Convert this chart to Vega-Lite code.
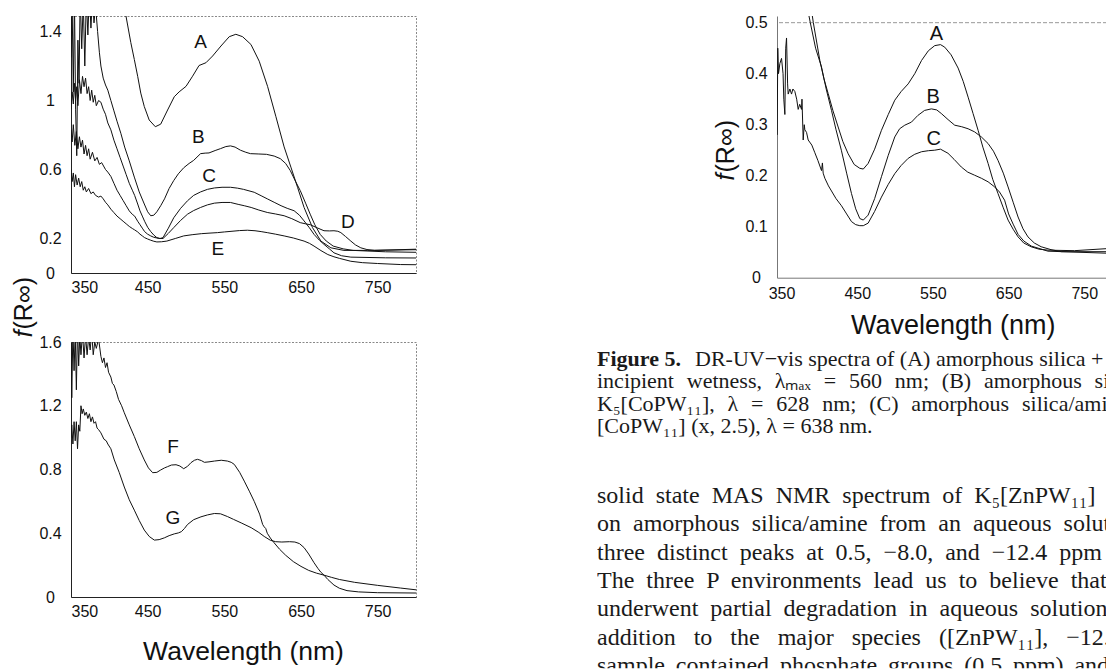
{
 "$schema": "https://vega.github.io/schema/vega-lite/v6.json",
 "padding": {"left": 10, "top": 14, "right": 0, "bottom": 0},
 "background": "white",
 "config": {
  "font": "Liberation Sans",
  "view": {"stroke": "#888", "strokeDash": [2, 1.5]},
  "axis": {"grid": false, "ticks": false, "tickSize": 0, "domainColor": "#222", "labelColor": "#111", "labelFont": "Liberation Sans", "labelFontSize": 16, "titleFont": "Liberation Sans", "titleFontWeight": "normal", "titleColor": "#111"}
 },
 "datasets": {
  "tl": [
   {"s":"A","wl":412,"v":1.72},{"s":"A","wl":421.7,"v":1.49},{"s":"A","wl":428,"v":1.336},{"s":"A","wl":432.6,"v":1.238},{"s":"A","wl":437,"v":1.14},{"s":"A","wl":441,"v":1.043},{"s":"A","wl":445.6,"v":0.965},{"s":"A","wl":452,"v":0.887},{"s":"A","wl":460,"v":0.848},{"s":"A","wl":467,"v":0.863},{"s":"A","wl":476,"v":0.945},{"s":"A","wl":484.7,"v":1.022},{"s":"A","wl":491,"v":1.05},{"s":"A","wl":500,"v":1.082},{"s":"A","wl":508.6,"v":1.141},{"s":"A","wl":517,"v":1.203},{"s":"A","wl":526,"v":1.219},{"s":"A","wl":534.7,"v":1.258},{"s":"A","wl":545.6,"v":1.316},{"s":"A","wl":556.4,"v":1.37},{"s":"A","wl":565,"v":1.384},{"s":"A","wl":573.8,"v":1.37},{"s":"A","wl":584.7,"v":1.325},{"s":"A","wl":595.5,"v":1.228},{"s":"A","wl":606.4,"v":1.082},{"s":"A","wl":617.3,"v":0.906},{"s":"A","wl":628,"v":0.731},{"s":"A","wl":636.8,"v":0.614},{"s":"A","wl":645.5,"v":0.497},{"s":"A","wl":654,"v":0.38},{"s":"A","wl":665,"v":0.263},{"s":"A","wl":676,"v":0.185},{"s":"A","wl":689,"v":0.146},{"s":"A","wl":706,"v":0.131},{"s":"A","wl":737,"v":0.131},{"s":"A","wl":800,"v":0.135},
   {"s":"B","wl":350,"v":1.25},{"s":"B","wl":351.5,"v":1.55},{"s":"B","wl":353,"v":1.05},{"s":"B","wl":354.5,"v":1.6},{"s":"B","wl":356,"v":0.95},{"s":"B","wl":357.5,"v":0.68},{"s":"B","wl":359,"v":1.35},{"s":"B","wl":360.5,"v":1.1},{"s":"B","wl":362,"v":1.62},{"s":"B","wl":364,"v":1.3},{"s":"B","wl":366,"v":1.58},{"s":"B","wl":368,"v":1.2},{"s":"B","wl":370,"v":1.6},{"s":"B","wl":372,"v":1.38},{"s":"B","wl":374,"v":1.62},{"s":"B","wl":376,"v":1.42},{"s":"B","wl":378,"v":1.6},{"s":"B","wl":380,"v":1.45},{"s":"B","wl":382,"v":1.55},{"s":"B","wl":384.7,"v":1.4},{"s":"B","wl":387,"v":1.28},{"s":"B","wl":389,"v":1.2},{"s":"B","wl":392,"v":1.13},{"s":"B","wl":395,"v":1.09},{"s":"B","wl":398,"v":1.06},{"s":"B","wl":402,"v":1.0},{"s":"B","wl":406,"v":0.94},{"s":"B","wl":410,"v":0.88},{"s":"B","wl":415,"v":0.81},{"s":"B","wl":420,"v":0.73},{"s":"B","wl":426,"v":0.65},{"s":"B","wl":432.6,"v":0.556},{"s":"B","wl":439,"v":0.47},{"s":"B","wl":445.6,"v":0.4},{"s":"B","wl":450,"v":0.355},{"s":"B","wl":454,"v":0.332},{"s":"B","wl":458,"v":0.335},{"s":"B","wl":462,"v":0.355},{"s":"B","wl":467,"v":0.39},{"s":"B","wl":472,"v":0.43},{"s":"B","wl":478,"v":0.49},{"s":"B","wl":484,"v":0.536},{"s":"B","wl":490,"v":0.575},{"s":"B","wl":497,"v":0.61},{"s":"B","wl":504,"v":0.635},{"s":"B","wl":510,"v":0.653},{"s":"B","wl":519,"v":0.692},{"s":"B","wl":525,"v":0.695},{"s":"B","wl":530,"v":0.696},{"s":"B","wl":538,"v":0.71},{"s":"B","wl":545,"v":0.721},{"s":"B","wl":552,"v":0.733},{"s":"B","wl":558,"v":0.737},{"s":"B","wl":564,"v":0.73},{"s":"B","wl":571,"v":0.712},{"s":"B","wl":578,"v":0.7},{"s":"B","wl":584,"v":0.692},{"s":"B","wl":595,"v":0.69},{"s":"B","wl":605,"v":0.688},{"s":"B","wl":615,"v":0.678},{"s":"B","wl":623,"v":0.663},{"s":"B","wl":630,"v":0.635},{"s":"B","wl":636,"v":0.594},{"s":"B","wl":643,"v":0.53},{"s":"B","wl":649,"v":0.478},{"s":"B","wl":656,"v":0.405},{"s":"B","wl":662,"v":0.341},{"s":"B","wl":668,"v":0.28},{"s":"B","wl":675,"v":0.224},{"s":"B","wl":683,"v":0.185},{"s":"B","wl":692,"v":0.156},{"s":"B","wl":705,"v":0.14},{"s":"B","wl":718,"v":0.131},{"s":"B","wl":760,"v":0.123},{"s":"B","wl":800,"v":0.12},
   {"s":"C","wl":350,"v":0.95},{"s":"C","wl":351.5,"v":1.05},{"s":"C","wl":353,"v":0.98},{"s":"C","wl":354.5,"v":1.1},{"s":"C","wl":356,"v":1.0},{"s":"C","wl":357.5,"v":1.08},{"s":"C","wl":359,"v":0.97},{"s":"C","wl":361,"v":1.12},{"s":"C","wl":363,"v":1.04},{"s":"C","wl":365,"v":1.14},{"s":"C","wl":367,"v":1.08},{"s":"C","wl":369,"v":1.13},{"s":"C","wl":371,"v":1.04},{"s":"C","wl":373,"v":1.08},{"s":"C","wl":375,"v":1.0},{"s":"C","wl":377,"v":1.06},{"s":"C","wl":379,"v":0.99},{"s":"C","wl":381,"v":1.03},{"s":"C","wl":383,"v":0.97},{"s":"C","wl":386,"v":1.0},{"s":"C","wl":389,"v":0.99},{"s":"C","wl":392,"v":0.95},{"s":"C","wl":395,"v":0.92},{"s":"C","wl":398,"v":0.87},{"s":"C","wl":402,"v":0.83},{"s":"C","wl":406,"v":0.77},{"s":"C","wl":410,"v":0.72},{"s":"C","wl":414,"v":0.67},{"s":"C","wl":418,"v":0.62},{"s":"C","wl":422,"v":0.57},{"s":"C","wl":426,"v":0.52},{"s":"C","wl":430,"v":0.48},{"s":"C","wl":433,"v":0.45},{"s":"C","wl":437,"v":0.4},{"s":"C","wl":440,"v":0.36},{"s":"C","wl":443,"v":0.33},{"s":"C","wl":446,"v":0.3},{"s":"C","wl":450,"v":0.265},{"s":"C","wl":454,"v":0.24},{"s":"C","wl":458,"v":0.22},{"s":"C","wl":462,"v":0.205},{"s":"C","wl":466,"v":0.2},{"s":"C","wl":470,"v":0.205},{"s":"C","wl":477,"v":0.26},{"s":"C","wl":484,"v":0.32},{"s":"C","wl":493,"v":0.375},{"s":"C","wl":502,"v":0.419},{"s":"C","wl":510,"v":0.45},{"s":"C","wl":519,"v":0.47},{"s":"C","wl":528,"v":0.485},{"s":"C","wl":537,"v":0.493},{"s":"C","wl":547,"v":0.497},{"s":"C","wl":558,"v":0.497},{"s":"C","wl":567,"v":0.492},{"s":"C","wl":575,"v":0.485},{"s":"C","wl":589,"v":0.468},{"s":"C","wl":598,"v":0.448},{"s":"C","wl":606,"v":0.43},{"s":"C","wl":615,"v":0.41},{"s":"C","wl":624,"v":0.39},{"s":"C","wl":632,"v":0.375},{"s":"C","wl":641,"v":0.361},{"s":"C","wl":648,"v":0.335},{"s":"C","wl":654,"v":0.302},{"s":"C","wl":661,"v":0.262},{"s":"C","wl":667,"v":0.224},{"s":"C","wl":674,"v":0.19},{"s":"C","wl":680,"v":0.166},{"s":"C","wl":687,"v":0.14},{"s":"C","wl":693,"v":0.117},{"s":"C","wl":703,"v":0.1},{"s":"C","wl":715,"v":0.092},{"s":"C","wl":760,"v":0.088},{"s":"C","wl":800,"v":0.087},
   {"s":"D","wl":350,"v":0.83},{"s":"D","wl":351.5,"v":0.76},{"s":"D","wl":353,"v":0.86},{"s":"D","wl":355,"v":0.74},{"s":"D","wl":357,"v":0.82},{"s":"D","wl":359,"v":0.72},{"s":"D","wl":361,"v":0.79},{"s":"D","wl":363,"v":0.73},{"s":"D","wl":365,"v":0.77},{"s":"D","wl":367,"v":0.69},{"s":"D","wl":369,"v":0.74},{"s":"D","wl":371,"v":0.68},{"s":"D","wl":373,"v":0.72},{"s":"D","wl":375,"v":0.66},{"s":"D","wl":378,"v":0.7},{"s":"D","wl":381,"v":0.65},{"s":"D","wl":384,"v":0.67},{"s":"D","wl":387,"v":0.63},{"s":"D","wl":390,"v":0.64},{"s":"D","wl":395,"v":0.6},{"s":"D","wl":398,"v":0.585},{"s":"D","wl":402,"v":0.56},{"s":"D","wl":406,"v":0.52},{"s":"D","wl":410,"v":0.48},{"s":"D","wl":414,"v":0.45},{"s":"D","wl":418,"v":0.42},{"s":"D","wl":422,"v":0.39},{"s":"D","wl":426,"v":0.36},{"s":"D","wl":430,"v":0.34},{"s":"D","wl":433,"v":0.33},{"s":"D","wl":437,"v":0.3},{"s":"D","wl":440,"v":0.28},{"s":"D","wl":443,"v":0.26},{"s":"D","wl":446,"v":0.24},{"s":"D","wl":450,"v":0.225},{"s":"D","wl":454,"v":0.215},{"s":"D","wl":458,"v":0.207},{"s":"D","wl":462,"v":0.203},{"s":"D","wl":466,"v":0.2},{"s":"D","wl":470,"v":0.2},{"s":"D","wl":477,"v":0.23},{"s":"D","wl":484,"v":0.263},{"s":"D","wl":493,"v":0.305},{"s":"D","wl":502,"v":0.341},{"s":"D","wl":510,"v":0.362},{"s":"D","wl":519,"v":0.38},{"s":"D","wl":528,"v":0.395},{"s":"D","wl":537,"v":0.405},{"s":"D","wl":547,"v":0.409},{"s":"D","wl":558,"v":0.409},{"s":"D","wl":568,"v":0.398},{"s":"D","wl":576,"v":0.39},{"s":"D","wl":585,"v":0.38},{"s":"D","wl":595,"v":0.365},{"s":"D","wl":606,"v":0.351},{"s":"D","wl":617,"v":0.342},{"s":"D","wl":628,"v":0.332},{"s":"D","wl":638,"v":0.315},{"s":"D","wl":649,"v":0.292},{"s":"D","wl":656,"v":0.285},{"s":"D","wl":662,"v":0.28},{"s":"D","wl":671,"v":0.262},{"s":"D","wl":680,"v":0.245},{"s":"D","wl":687,"v":0.244},{"s":"D","wl":693,"v":0.245},{"s":"D","wl":698,"v":0.242},{"s":"D","wl":702,"v":0.234},{"s":"D","wl":708,"v":0.212},{"s":"D","wl":715,"v":0.185},{"s":"D","wl":721,"v":0.163},{"s":"D","wl":728,"v":0.146},{"s":"D","wl":736,"v":0.136},{"s":"D","wl":746,"v":0.131},{"s":"D","wl":770,"v":0.134},{"s":"D","wl":800,"v":0.138},
   {"s":"E","wl":350,"v":0.6},{"s":"E","wl":351.5,"v":0.53},{"s":"E","wl":353,"v":0.58},{"s":"E","wl":354.5,"v":0.5},{"s":"E","wl":356,"v":0.57},{"s":"E","wl":358,"v":0.51},{"s":"E","wl":360,"v":0.55},{"s":"E","wl":362,"v":0.5},{"s":"E","wl":364,"v":0.53},{"s":"E","wl":366,"v":0.48},{"s":"E","wl":368,"v":0.5},{"s":"E","wl":370,"v":0.47},{"s":"E","wl":373,"v":0.49},{"s":"E","wl":376,"v":0.46},{"s":"E","wl":379,"v":0.47},{"s":"E","wl":382,"v":0.45},{"s":"E","wl":386,"v":0.44},{"s":"E","wl":389,"v":0.446},{"s":"E","wl":392,"v":0.43},{"s":"E","wl":395,"v":0.41},{"s":"E","wl":398,"v":0.395},{"s":"E","wl":402,"v":0.37},{"s":"E","wl":406,"v":0.35},{"s":"E","wl":410,"v":0.33},{"s":"E","wl":414,"v":0.315},{"s":"E","wl":418,"v":0.3},{"s":"E","wl":422,"v":0.285},{"s":"E","wl":426,"v":0.27},{"s":"E","wl":430,"v":0.258},{"s":"E","wl":433,"v":0.25},{"s":"E","wl":437,"v":0.238},{"s":"E","wl":440,"v":0.225},{"s":"E","wl":443,"v":0.215},{"s":"E","wl":446,"v":0.205},{"s":"E","wl":450,"v":0.197},{"s":"E","wl":454,"v":0.19},{"s":"E","wl":458,"v":0.184},{"s":"E","wl":462,"v":0.18},{"s":"E","wl":468,"v":0.181},{"s":"E","wl":475,"v":0.185},{"s":"E","wl":486,"v":0.2},{"s":"E","wl":497,"v":0.215},{"s":"E","wl":508,"v":0.222},{"s":"E","wl":520,"v":0.228},{"s":"E","wl":530,"v":0.231},{"s":"E","wl":541,"v":0.234},{"s":"E","wl":550,"v":0.238},{"s":"E","wl":560,"v":0.242},{"s":"E","wl":570,"v":0.246},{"s":"E","wl":580,"v":0.248},{"s":"E","wl":590,"v":0.245},{"s":"E","wl":598,"v":0.24},{"s":"E","wl":606,"v":0.234},{"s":"E","wl":617,"v":0.225},{"s":"E","wl":628,"v":0.215},{"s":"E","wl":640,"v":0.203},{"s":"E","wl":654,"v":0.185},{"s":"E","wl":661,"v":0.172},{"s":"E","wl":667,"v":0.156},{"s":"E","wl":676,"v":0.13},{"s":"E","wl":685,"v":0.107},{"s":"E","wl":693,"v":0.094},{"s":"E","wl":700,"v":0.085},{"s":"E","wl":715,"v":0.068},{"s":"E","wl":730,"v":0.06},{"s":"E","wl":750,"v":0.055},{"s":"E","wl":780,"v":0.049},{"s":"E","wl":800,"v":0.048}
  ],
  "bl": [
   {"s":"F","wl":350,"v":1.62},{"s":"F","wl":351,"v":1.25},{"s":"F","wl":352.5,"v":1.68},{"s":"F","wl":354,"v":1.42},{"s":"F","wl":355.5,"v":1.66},{"s":"F","wl":357,"v":1.3},{"s":"F","wl":358.5,"v":1.7},{"s":"F","wl":360,"v":1.45},{"s":"F","wl":361.5,"v":1.64},{"s":"F","wl":363,"v":1.52},{"s":"F","wl":365,"v":1.66},{"s":"F","wl":367,"v":1.5},{"s":"F","wl":369,"v":1.64},{"s":"F","wl":371,"v":1.52},{"s":"F","wl":373,"v":1.63},{"s":"F","wl":375,"v":1.55},{"s":"F","wl":377,"v":1.66},{"s":"F","wl":379,"v":1.52},{"s":"F","wl":381,"v":1.6},{"s":"F","wl":383,"v":1.56},{"s":"F","wl":386,"v":1.62},{"s":"F","wl":389,"v":1.51},{"s":"F","wl":391,"v":1.47},{"s":"F","wl":393,"v":1.5},{"s":"F","wl":395,"v":1.44},{"s":"F","wl":397,"v":1.47},{"s":"F","wl":399,"v":1.41},{"s":"F","wl":402,"v":1.38},{"s":"F","wl":404,"v":1.34},{"s":"F","wl":406,"v":1.33},{"s":"F","wl":409,"v":1.29},{"s":"F","wl":412,"v":1.24},{"s":"F","wl":416,"v":1.2},{"s":"F","wl":419.5,"v":1.156},{"s":"F","wl":426,"v":1.08},{"s":"F","wl":432.6,"v":1.007},{"s":"F","wl":439,"v":0.93},{"s":"F","wl":445.6,"v":0.86},{"s":"F","wl":451,"v":0.81},{"s":"F","wl":456.5,"v":0.78},{"s":"F","wl":462,"v":0.782},{"s":"F","wl":467,"v":0.797},{"s":"F","wl":472,"v":0.81},{"s":"F","wl":476,"v":0.818},{"s":"F","wl":481,"v":0.828},{"s":"F","wl":487,"v":0.83},{"s":"F","wl":492,"v":0.822},{"s":"F","wl":497,"v":0.805},{"s":"F","wl":502,"v":0.82},{"s":"F","wl":506.5,"v":0.843},{"s":"F","wl":511,"v":0.858},{"s":"F","wl":515,"v":0.864},{"s":"F","wl":520,"v":0.856},{"s":"F","wl":524,"v":0.845},{"s":"F","wl":530,"v":0.848},{"s":"F","wl":537,"v":0.853},{"s":"F","wl":546,"v":0.858},{"s":"F","wl":554,"v":0.853},{"s":"F","wl":559,"v":0.845},{"s":"F","wl":563,"v":0.832},{"s":"F","wl":570,"v":0.782},{"s":"F","wl":576,"v":0.727},{"s":"F","wl":583,"v":0.66},{"s":"F","wl":589,"v":0.6},{"s":"F","wl":596,"v":0.52},{"s":"F","wl":600,"v":0.455},{"s":"F","wl":602,"v":0.44},{"s":"F","wl":604,"v":0.43},{"s":"F","wl":606,"v":0.4},{"s":"F","wl":610,"v":0.37},{"s":"F","wl":615,"v":0.34},{"s":"F","wl":622,"v":0.3},{"s":"F","wl":630,"v":0.262},{"s":"F","wl":640,"v":0.222},{"s":"F","wl":650,"v":0.192},{"s":"F","wl":660,"v":0.167},{"s":"F","wl":670,"v":0.15},{"s":"F","wl":680,"v":0.137},{"s":"F","wl":690,"v":0.123},{"s":"F","wl":700,"v":0.11},{"s":"F","wl":720,"v":0.092},{"s":"F","wl":750,"v":0.073},{"s":"F","wl":780,"v":0.056},{"s":"F","wl":800,"v":0.045},
   {"s":"G","wl":350,"v":1.0},{"s":"G","wl":351,"v":1.08},{"s":"G","wl":352.5,"v":0.96},{"s":"G","wl":354,"v":1.1},{"s":"G","wl":355.5,"v":0.98},{"s":"G","wl":357,"v":1.1},{"s":"G","wl":358.5,"v":0.93},{"s":"G","wl":360,"v":1.08},{"s":"G","wl":361.5,"v":1.04},{"s":"G","wl":363,"v":1.2},{"s":"G","wl":364.5,"v":1.15},{"s":"G","wl":366,"v":1.18},{"s":"G","wl":368,"v":1.14},{"s":"G","wl":370,"v":1.16},{"s":"G","wl":372,"v":1.12},{"s":"G","wl":374,"v":1.15},{"s":"G","wl":376,"v":1.1},{"s":"G","wl":378,"v":1.13},{"s":"G","wl":380,"v":1.09},{"s":"G","wl":382,"v":1.1},{"s":"G","wl":384,"v":1.06},{"s":"G","wl":386,"v":1.05},{"s":"G","wl":389,"v":1.03},{"s":"G","wl":393,"v":0.99},{"s":"G","wl":396,"v":0.98},{"s":"G","wl":398,"v":0.96},{"s":"G","wl":402,"v":0.93},{"s":"G","wl":406.5,"v":0.86},{"s":"G","wl":413,"v":0.78},{"s":"G","wl":419.5,"v":0.69},{"s":"G","wl":426,"v":0.61},{"s":"G","wl":432.6,"v":0.545},{"s":"G","wl":439,"v":0.48},{"s":"G","wl":445.6,"v":0.42},{"s":"G","wl":452,"v":0.38},{"s":"G","wl":458.7,"v":0.357},{"s":"G","wl":465,"v":0.36},{"s":"G","wl":471.7,"v":0.371},{"s":"G","wl":478,"v":0.385},{"s":"G","wl":484.7,"v":0.396},{"s":"G","wl":490,"v":0.402},{"s":"G","wl":494,"v":0.41},{"s":"G","wl":498,"v":0.43},{"s":"G","wl":502,"v":0.455},{"s":"G","wl":510,"v":0.485},{"s":"G","wl":519.5,"v":0.503},{"s":"G","wl":528,"v":0.515},{"s":"G","wl":537,"v":0.524},{"s":"G","wl":545,"v":0.522},{"s":"G","wl":554,"v":0.505},{"s":"G","wl":562,"v":0.487},{"s":"G","wl":572,"v":0.465},{"s":"G","wl":585,"v":0.435},{"s":"G","wl":595,"v":0.405},{"s":"G","wl":602,"v":0.38},{"s":"G","wl":610,"v":0.356},{"s":"G","wl":617,"v":0.347},{"s":"G","wl":625,"v":0.345},{"s":"G","wl":635,"v":0.347},{"s":"G","wl":642,"v":0.345},{"s":"G","wl":648,"v":0.335},{"s":"G","wl":654,"v":0.31},{"s":"G","wl":660,"v":0.27},{"s":"G","wl":667,"v":0.215},{"s":"G","wl":672,"v":0.18},{"s":"G","wl":676,"v":0.155},{"s":"G","wl":680,"v":0.137},{"s":"G","wl":685,"v":0.11},{"s":"G","wl":693,"v":0.075},{"s":"G","wl":700,"v":0.055},{"s":"G","wl":710,"v":0.04},{"s":"G","wl":725,"v":0.032},{"s":"G","wl":750,"v":0.027},{"s":"G","wl":800,"v":0.025}
  ],
  "rp": [
   {"s":"A","wl":384,"v":0.58},{"s":"A","wl":392,"v":0.5},{"s":"A","wl":400.6,"v":0.426},{"s":"A","wl":406,"v":0.39},{"s":"A","wl":411.6,"v":0.361},{"s":"A","wl":418,"v":0.327},{"s":"A","wl":424.8,"v":0.2955},{"s":"A","wl":431,"v":0.267},{"s":"A","wl":438,"v":0.243},{"s":"A","wl":446,"v":0.222},{"s":"A","wl":453.4,"v":0.2145},{"s":"A","wl":458,"v":0.213},{"s":"A","wl":464.4,"v":0.224},{"s":"A","wl":473,"v":0.252},{"s":"A","wl":482,"v":0.289},{"s":"A","wl":491,"v":0.32},{"s":"A","wl":499.6,"v":0.348},{"s":"A","wl":508,"v":0.365},{"s":"A","wl":517.3,"v":0.38},{"s":"A","wl":526,"v":0.4},{"s":"A","wl":535,"v":0.426},{"s":"A","wl":544,"v":0.445},{"s":"A","wl":552.4,"v":0.455},{"s":"A","wl":560,"v":0.457},{"s":"A","wl":565.6,"v":0.452},{"s":"A","wl":574,"v":0.437},{"s":"A","wl":583.3,"v":0.411},{"s":"A","wl":590,"v":0.385},{"s":"A","wl":596.5,"v":0.354},{"s":"A","wl":603,"v":0.322},{"s":"A","wl":609.7,"v":0.289},{"s":"A","wl":616,"v":0.256},{"s":"A","wl":622.9,"v":0.224},{"s":"A","wl":629,"v":0.193},{"s":"A","wl":636,"v":0.165},{"s":"A","wl":643,"v":0.137},{"s":"A","wl":649.3,"v":0.113},{"s":"A","wl":656,"v":0.095},{"s":"A","wl":662.5,"v":0.08},{"s":"A","wl":670,"v":0.068},{"s":"A","wl":680,"v":0.0605},{"s":"A","wl":690,"v":0.056},{"s":"A","wl":702,"v":0.054},{"s":"A","wl":737,"v":0.053},{"s":"A","wl":780,"v":0.057},
   {"s":"B","wl":380,"v":0.56},{"s":"B","wl":388,"v":0.5},{"s":"B","wl":395,"v":0.45},{"s":"B","wl":402.8,"v":0.413},{"s":"B","wl":409,"v":0.37},{"s":"B","wl":416,"v":0.328},{"s":"B","wl":422,"v":0.29},{"s":"B","wl":429,"v":0.25},{"s":"B","wl":436,"v":0.205},{"s":"B","wl":442.4,"v":0.165},{"s":"B","wl":448,"v":0.135},{"s":"B","wl":453.4,"v":0.116},{"s":"B","wl":458,"v":0.113},{"s":"B","wl":464.4,"v":0.1227},{"s":"B","wl":473,"v":0.155},{"s":"B","wl":482,"v":0.198},{"s":"B","wl":491,"v":0.24},{"s":"B","wl":499.6,"v":0.276},{"s":"B","wl":506,"v":0.292},{"s":"B","wl":512.8,"v":0.299},{"s":"B","wl":521.6,"v":0.305},{"s":"B","wl":530,"v":0.318},{"s":"B","wl":539,"v":0.328},{"s":"B","wl":548,"v":0.331},{"s":"B","wl":555,"v":0.329},{"s":"B","wl":561,"v":0.322},{"s":"B","wl":570,"v":0.31},{"s":"B","wl":578.8,"v":0.299},{"s":"B","wl":588,"v":0.296},{"s":"B","wl":596.5,"v":0.292},{"s":"B","wl":605,"v":0.286},{"s":"B","wl":614,"v":0.276},{"s":"B","wl":622.9,"v":0.263},{"s":"B","wl":630,"v":0.248},{"s":"B","wl":636,"v":0.23},{"s":"B","wl":643,"v":0.205},{"s":"B","wl":649.3,"v":0.178},{"s":"B","wl":656,"v":0.148},{"s":"B","wl":662.5,"v":0.119},{"s":"B","wl":669,"v":0.096},{"s":"B","wl":675.6,"v":0.08},{"s":"B","wl":684,"v":0.068},{"s":"B","wl":693,"v":0.0607},{"s":"B","wl":706,"v":0.055},{"s":"B","wl":719.6,"v":0.051},{"s":"B","wl":780,"v":0.051},
   {"s":"C","wl":344.3,"v":0.28},{"s":"C","wl":345,"v":0.45},{"s":"C","wl":346,"v":0.4},{"s":"C","wl":347.8,"v":0.42},{"s":"C","wl":350,"v":0.43},{"s":"C","wl":352,"v":0.4},{"s":"C","wl":353,"v":0.35},{"s":"C","wl":354.4,"v":0.32},{"s":"C","wl":355.5,"v":0.45},{"s":"C","wl":356.6,"v":0.47},{"s":"C","wl":358,"v":0.38},{"s":"C","wl":358.8,"v":0.36},{"s":"C","wl":361,"v":0.37},{"s":"C","wl":363.2,"v":0.36},{"s":"C","wl":365,"v":0.37},{"s":"C","wl":367.6,"v":0.365},{"s":"C","wl":370,"v":0.35},{"s":"C","wl":372,"v":0.33},{"s":"C","wl":374,"v":0.34},{"s":"C","wl":376.4,"v":0.33},{"s":"C","wl":377,"v":0.35},{"s":"C","wl":378.6,"v":0.27},{"s":"C","wl":380,"v":0.3},{"s":"C","wl":380.8,"v":0.29},{"s":"C","wl":383,"v":0.285},{"s":"C","wl":385.2,"v":0.27},{"s":"C","wl":390,"v":0.26},{"s":"C","wl":394,"v":0.245},{"s":"C","wl":398,"v":0.23},{"s":"C","wl":402.8,"v":0.21},{"s":"C","wl":404,"v":0.225},{"s":"C","wl":405,"v":0.205},{"s":"C","wl":407.2,"v":0.195},{"s":"C","wl":412,"v":0.18},{"s":"C","wl":416,"v":0.17},{"s":"C","wl":422,"v":0.155},{"s":"C","wl":429.2,"v":0.141},{"s":"C","wl":436,"v":0.125},{"s":"C","wl":442.4,"v":0.11},{"s":"C","wl":448,"v":0.104},{"s":"C","wl":453.4,"v":0.102},{"s":"C","wl":458,"v":0.102},{"s":"C","wl":464.4,"v":0.107},{"s":"C","wl":473,"v":0.13},{"s":"C","wl":482,"v":0.158},{"s":"C","wl":491,"v":0.183},{"s":"C","wl":499.6,"v":0.204},{"s":"C","wl":508,"v":0.22},{"s":"C","wl":517.3,"v":0.234},{"s":"C","wl":526,"v":0.242},{"s":"C","wl":535,"v":0.247},{"s":"C","wl":544,"v":0.249},{"s":"C","wl":552.4,"v":0.25},{"s":"C","wl":560,"v":0.252},{"s":"C","wl":569.9,"v":0.244},{"s":"C","wl":578,"v":0.232},{"s":"C","wl":587.5,"v":0.217},{"s":"C","wl":596,"v":0.207},{"s":"C","wl":605,"v":0.201},{"s":"C","wl":614,"v":0.195},{"s":"C","wl":622.9,"v":0.188},{"s":"C","wl":631.6,"v":0.178},{"s":"C","wl":638,"v":0.168},{"s":"C","wl":644.7,"v":0.152},{"s":"C","wl":650,"v":0.125},{"s":"C","wl":656,"v":0.105},{"s":"C","wl":662.5,"v":0.085},{"s":"C","wl":670,"v":0.072},{"s":"C","wl":680,"v":0.062},{"s":"C","wl":702,"v":0.052},{"s":"C","wl":780,"v":0.048}
  ]
 },
 "spacing": -5,
 "vconcat": [
  {
   "spacing": 296,
   "hconcat": [
    {
     "width": 345, "height": 257,
     "layer": [
      {"data": {"name": "tl"}, "mark": {"type": "line", "clip": true, "color": "#111", "strokeWidth": 1},
       "encoding": {
        "x": {"field": "wl", "type": "quantitative", "scale": {"domain": [350, 800], "nice": false, "zero": false},
              "axis": {"values": [350, 450, 550, 650, 750], "format": "d", "title": null, "labelPadding": 6}},
        "y": {"field": "v", "type": "quantitative", "scale": {"domain": [0, 1.49], "nice": false},
              "axis": {"values": [0, 0.2, 0.6, 1, 1.4], "format": "~g", "labelAlign": "center", "labelBaseline": "middle", "labelPadding": 21,
                       "title": "f", "titleFontStyle": "italic", "titleFontSize": 25, "titleAngle": 270, "titleAlign": "left", "titleBaseline": "bottom", "titleX": -35, "titleY": 320.7}},
        "detail": {"field": "s", "type": "nominal"}}},
      {"data": {"values": [{"label": "A", "wl": 519, "v": 1.339}, {"label": "B", "wl": 516, "v": 0.79}, {"label": "C", "wl": 530, "v": 0.563}, {"label": "D", "wl": 711, "v": 0.298}, {"label": "E", "wl": 541.5, "v": 0.137}]},
       "mark": {"type": "text", "fontSize": 19, "color": "#111", "align": "center", "baseline": "middle"},
       "encoding": {
        "x": {"field": "wl", "type": "quantitative", "scale": {"domain": [350, 800], "nice": false, "zero": false},
              "axis": {"values": [350, 450, 550, 650, 750], "format": "d", "title": null, "labelPadding": 6}},
        "y": {"field": "v", "type": "quantitative", "scale": {"domain": [0, 1.49], "nice": false},
              "axis": {"orient": "left", "labels": false, "domain": false, "title": "(R∞)", "titleFontSize": 25, "titleAngle": 270, "titleAlign": "left", "titleBaseline": "bottom", "titleX": -35, "titleY": 313}},
        "text": {"field": "label"}}}
     ],
     "resolve": {"axis": {"y": "independent"}}
    },
    {
     "width": 330, "height": 261.7, "view": {"stroke": null},
     "layer": [
      {"data": {"values": [{}]}, "mark": {"type": "rule", "color": "#999", "strokeDash": [4, 2], "strokeWidth": 1},
       "encoding": {"y": {"datum": 0.5, "type": "quantitative", "scale": {"domain": [0, 0.5131], "nice": false}, "axis": null}}},
      {"data": {"name": "rp"}, "mark": {"type": "line", "clip": true, "color": "#111", "strokeWidth": 1},
       "encoding": {
        "x": {"field": "wl", "type": "quantitative", "scale": {"domain": [344, 780], "nice": false, "zero": false},
              "axis": {"values": [350, 450, 550, 650, 750], "format": "d", "labelPadding": 8, "domainColor": "#777",
                       "title": "Wavelength (nm)", "titleFontSize": 27, "titleAlign": "center", "titleBaseline": "alphabetic", "titleX": 175.7, "titleY": 55.3}},
        "y": {"field": "v", "type": "quantitative", "scale": {"domain": [0, 0.5131], "nice": false},
              "axis": {"values": [0, 0.1, 0.2, 0.3, 0.4, 0.5], "format": "~g", "labelAlign": "center", "labelBaseline": "middle", "labelPadding": 21, "domainColor": "#777",
                       "title": "f", "titleFontStyle": "italic", "titleFontSize": 25, "titleAngle": 270, "titleAlign": "left", "titleBaseline": "bottom", "titleX": -39, "titleY": 164}},
        "detail": {"field": "s", "type": "nominal"}}},
      {"data": {"values": [{"label": "A", "wl": 554.6, "v": 0.477}, {"label": "B", "wl": 550.2, "v": 0.354}, {"label": "C", "wl": 551, "v": 0.271}]},
       "mark": {"type": "text", "fontSize": 20, "color": "#111", "align": "center", "baseline": "middle"},
       "encoding": {
        "x": {"field": "wl", "type": "quantitative", "scale": {"domain": [344, 780], "nice": false, "zero": false},
              "axis": {"values": [350, 450, 550, 650, 750], "format": "d", "labelPadding": 8, "domainColor": "#777",
                       "title": "Wavelength (nm)", "titleFontSize": 27, "titleAlign": "center", "titleBaseline": "alphabetic", "titleX": 175.7, "titleY": 55.3}},
        "y": {"field": "v", "type": "quantitative", "scale": {"domain": [0, 0.5131], "nice": false},
              "axis": {"orient": "left", "labels": false, "domain": false, "title": "(R∞)", "titleFontSize": 25, "titleAngle": 270, "titleAlign": "left", "titleBaseline": "bottom", "titleX": -39, "titleY": 156}},
        "text": {"field": "label"}}}
     ],
     "resolve": {"axis": {"y": "independent"}}
    }
   ]
  },
  {
   "spacing": 180,
   "hconcat": [
    {
     "width": 345, "height": 255,
     "layer": [
      {"data": {"name": "bl"}, "mark": {"type": "line", "clip": true, "color": "#111", "strokeWidth": 1},
       "encoding": {
        "x": {"field": "wl", "type": "quantitative", "scale": {"domain": [350, 800], "nice": false, "zero": false},
              "axis": {"values": [350, 450, 550, 650, 750], "format": "d", "labelPadding": 6,
                       "title": "Wavelength (nm)", "titleFontSize": 26.5, "titleAlign": "center", "titleBaseline": "alphabetic", "titleX": 172, "titleY": 62}},
        "y": {"field": "v", "type": "quantitative", "scale": {"domain": [0, 1.6], "nice": false},
              "axis": {"values": [0, 0.4, 0.8, 1.2, 1.6], "format": "~g", "labelAlign": "center", "labelBaseline": "middle", "labelPadding": 21,
                       "title": "f(R∞)", "titleOpacity": 0, "titleFontSize": 25, "titleAngle": 270, "titleAlign": "center", "titleBaseline": "bottom", "titleX": -35, "titleY": 120}},
        "detail": {"field": "s", "type": "nominal"}}},
      {"data": {"values": [{"label": "F", "wl": 483, "v": 0.943}, {"label": "G", "wl": 483, "v": 0.493}]},
       "mark": {"type": "text", "fontSize": 19, "color": "#111", "align": "center", "baseline": "middle"},
       "encoding": {
        "x": {"field": "wl", "type": "quantitative", "scale": {"domain": [350, 800], "nice": false, "zero": false},
              "axis": {"values": [350, 450, 550, 650, 750], "format": "d", "labelPadding": 6,
                       "title": "Wavelength (nm)", "titleFontSize": 26.5, "titleAlign": "center", "titleBaseline": "alphabetic", "titleX": 172, "titleY": 62}},
        "y": {"field": "v", "type": "quantitative", "scale": {"domain": [0, 1.6], "nice": false},
              "axis": {"values": [0, 0.4, 0.8, 1.2, 1.6], "format": "~g", "labelAlign": "center", "labelBaseline": "middle", "labelPadding": 21,
                       "title": "f(R∞)", "titleOpacity": 0, "titleFontSize": 25, "titleAngle": 270, "titleAlign": "center", "titleBaseline": "bottom", "titleX": -35, "titleY": 120}},
        "text": {"field": "label"}}}
     ]
    },
    {
     "width": 510, "height": 326.3, "view": {"stroke": null},
     "layer": [
      {"data": {"values": [{"line": 1, "t": "Figure 5."}]},
       "mark": {"type": "text", "clip": true, "font": "Liberation Serif", "fontSize": 22, "fontWeight": "bold", "align": "left", "baseline": "alphabetic", "color": "#1a1a1a"},
       "encoding": {
        "x": {"datum": 0, "type": "quantitative", "scale": {"domain": [0, 1]}, "axis": null},
        "y": {"field": "line", "type": "quantitative", "scale": {"domain": [-0.05, 14.45], "reverse": true, "nice": false, "zero": false}, "axis": null},
        "text": {"field": "t"}}},
      {"data": {"values": [{"line": 1, "t": "DR-UV−vis spectra of (A) amorphous silica + K₅[CoPW₁₁] by"}]},
       "mark": {"type": "text", "clip": true, "font": "Liberation Serif", "fontSize": 22, "dx": 98, "align": "left", "baseline": "alphabetic", "color": "#1a1a1a"},
       "encoding": {
        "x": {"datum": 0, "type": "quantitative", "scale": {"domain": [0, 1]}, "axis": null},
        "y": {"field": "line", "type": "quantitative", "scale": {"domain": [-0.05, 14.45], "reverse": true, "nice": false, "zero": false}, "axis": null},
        "text": {"field": "t"}}},
      {"data": {"values": [
         {"line": 2, "t": "incipient \u00a0\u200awetness, \u00a0\u200aλₘₐₓ \u00a0\u200a= \u00a0\u200a560 \u00a0\u200anm; \u00a0\u200a(B) \u00a0\u200aamorphous \u00a0\u200asilica/amine \u00a0+"},
         {"line": 3, "t": "K₅[CoPW₁₁], \u00a0\u200aλ \u00a0\u200a= \u00a0\u200a628 \u00a0\u200anm; \u00a0\u200a(C) \u00a0\u200aamorphous \u00a0\u200asilica/amine \u00a0+"},
         {"line": 4, "t": "[CoPW₁₁] (x, 2.5), λ = 638 nm."}]},
       "mark": {"type": "text", "clip": true, "font": "Liberation Serif", "fontSize": 22, "align": "left", "baseline": "alphabetic", "color": "#1a1a1a"},
       "encoding": {
        "x": {"datum": 0, "type": "quantitative", "scale": {"domain": [0, 1]}, "axis": null},
        "y": {"field": "line", "type": "quantitative", "scale": {"domain": [-0.05, 14.45], "reverse": true, "nice": false, "zero": false}, "axis": null},
        "text": {"field": "t"}}},
      {"data": {"values": [
         {"line": 1, "t": "solid \u00a0state \u00a0MAS \u00a0NMR \u00a0spectrum \u00a0of \u00a0K₅[ZnPW₁₁] \u00a0supported"},
         {"line": 2, "t": "on \u00a0amorphous \u00a0silica/amine \u00a0from \u00a0an \u00a0aqueous \u00a0solution"},
         {"line": 3, "t": "three \u00a0distinct \u00a0peaks \u00a0at \u00a00.5, \u00a0−8.0, \u00a0and \u00a0−12.4 \u00a0ppm \u00a0(Figure"},
         {"line": 4, "t": "The \u00a0three \u00a0P \u00a0environments \u00a0lead \u00a0us \u00a0to \u00a0believe \u00a0that"},
         {"line": 5, "t": "underwent \u00a0partial \u00a0degradation \u00a0in \u00a0aqueous \u00a0solution."},
         {"line": 6, "t": "addition \u00a0\u00a0to \u00a0\u00a0the \u00a0\u00a0major \u00a0\u00a0species \u00a0\u00a0([ZnPW₁₁], \u00a0\u00a0−12.4 \u00a0ppm)"},
         {"line": 7, "t": "sample \u2009contained \u2009phosphate \u2009groups \u2009(0.5 \u2009ppm) \u2009and"}]},
       "mark": {"type": "text", "clip": true, "font": "Liberation Serif", "fontSize": 24, "align": "left", "baseline": "alphabetic", "color": "#1a1a1a"},
       "encoding": {
        "x": {"datum": 0, "type": "quantitative", "scale": {"domain": [0, 1]}, "axis": null},
        "y": {"field": "line", "type": "quantitative", "scale": {"domain": [-4.662, 6.827], "reverse": true, "nice": false, "zero": false}, "axis": null},
        "text": {"field": "t"}}}
     ],
     "resolve": {"scale": {"y": "independent"}}
    }
   ]
  }
 ]
}
